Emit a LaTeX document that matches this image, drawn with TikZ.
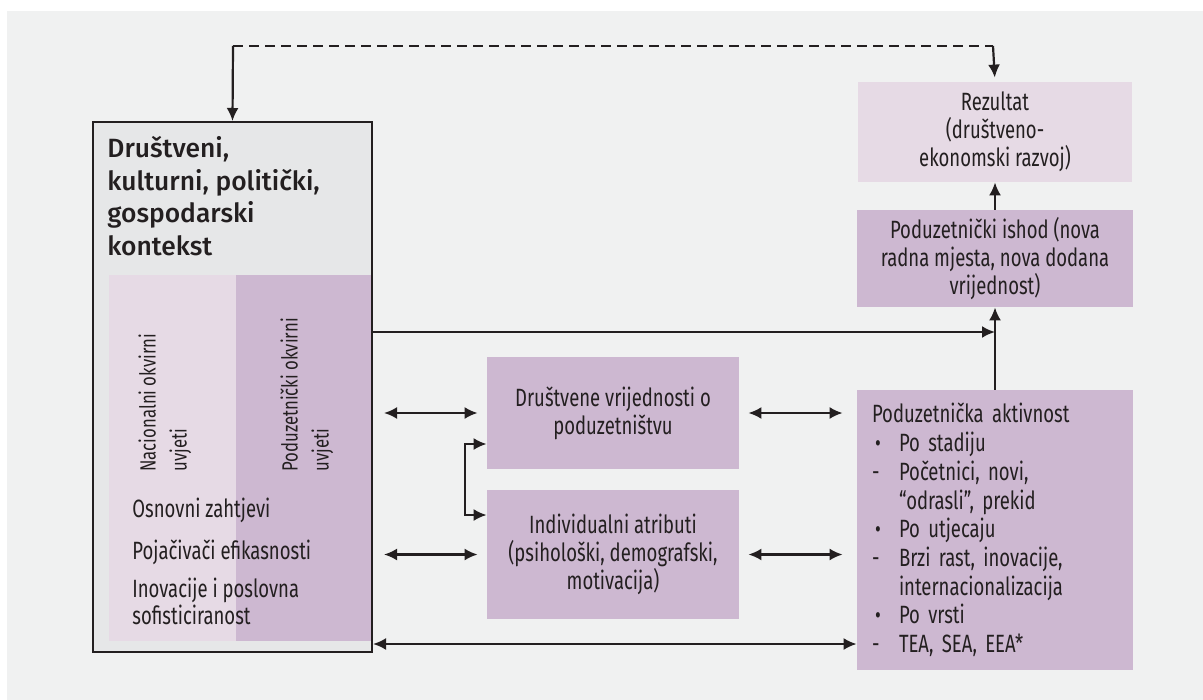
\documentclass[tikz,border=0pt]{standalone}
\usepackage{fontspec}
\setmainfont{Fira Sans}
\newfontfamily\condfont[FakeStretch=0.74]{Fira Sans}
\newfontfamily\rotfont[FakeStretch=0.76]{Fira Sans}
\newfontfamily\titlefont{Fira Sans Medium}
\usetikzlibrary{arrows.meta}
\definecolor{panel}{HTML}{F0F1F1}
\definecolor{ctxgray}{HTML}{E6E7E8}
\definecolor{lilalight}{HTML}{E6DAE5}
\definecolor{lila}{HTML}{CDB8D1}
\definecolor{txt}{HTML}{231F20}
\begin{document}
\begin{tikzpicture}[x=0.5pt, y=-0.5pt, >={Latex[length=6.5pt,width=6pt]},
  box/.style={rectangle, inner sep=0pt, text=txt, align=center,
    font=\condfont\fontsize{12.5}{14}\selectfont},
  lbl/.style={inner sep=0pt, text=txt, align=left,
    font=\condfont\fontsize{12.5}{13.5}\selectfont},
  conn/.style={draw=txt, line width=1.1pt}]
  % Background
  \fill[white] (0,0) rectangle (1203,700);
  \fill[panel] (7,11) rectangle (1203,700);
  % Nodes
  \node (ctx) [rectangle, draw=txt, fill=ctxgray, line width=1pt, minimum width=139.5pt, minimum height=265pt] at (232.5,387) {};
  \node (nat) [rectangle, fill=lilalight, inner sep=0pt, minimum width=63.5pt, minimum height=183pt] at (172.5,458) {};
  \node (pod) [rectangle, fill=lila, inner sep=0pt, minimum width=67.5pt, minimum height=183pt] at (303.5,458) {};
  \node (ttl) [anchor=north west, inner sep=0pt, align=left, text=txt, font=\titlefont\fontsize{13.2}{16.25}\selectfont] at (107,136) {Društveni,\\kulturni, politički,\\gospodarski\\kontekst};
  \node (natlbl) [rotate=90, anchor=north west, inner sep=0pt, align=left, text=txt, font=\rotfont\fontsize{11}{15.5}\selectfont] at (138,472) {Nacionalni okvirni\\uvjeti};
  \node (podlbl) [rotate=90, anchor=north west, inner sep=0pt, align=left, text=txt, font=\rotfont\fontsize{11}{15.5}\selectfont] at (280,472) {Poduzetnički okvirni\\uvjeti};
  \node (osn) [lbl, anchor=west] at (132,510) {Osnovni zahtjevi};
  \node (poj) [lbl, anchor=west] at (132,552) {Pojačivači efikasnosti};
  \node (ino) [lbl, anchor=west] at (132,601.5) {Inovacije i poslovna\\sofisticiranost};

  \node (vri) [box, fill=lila, minimum width=126pt, minimum height=56pt] at (613,413) {Društvene vrijednosti o\\poduzetništvu};
  \node (ind) [box, fill=lila, minimum width=126pt, minimum height=64.5pt] at (613,554.5) {Individualni atributi\\(psihološki, demografski,\\motivacija)};
  \node (rez) [box, fill=lilalight, minimum width=137pt, minimum height=50pt] at (995,132) {Rezultat\\(društveno-\\ekonomski razvoj)};
  \node (ish) [box, fill=lila, minimum width=138pt, minimum height=48.5pt] at (995,258.5) {Poduzetnički ishod (nova\\radna mjesta, nova dodana\\vrijednost)};
  \node (akt) [box, fill=lila, align=left, inner xsep=7.5pt, text width=123pt, minimum height=140pt, font=\condfont\fontsize{12.5}{14.35}\selectfont] at (995,530) {Poduzetnička aktivnost\\
    \makebox[13.5pt][l]{\hspace{1.5pt}\large•}Po stadiju\\
    \makebox[13.5pt][l]{-}Početnici, novi,\\
    \hspace*{13.5pt}“odrasli”, prekid\\
    \makebox[13.5pt][l]{\hspace{1.5pt}\large•}Po utjecaju\\
    \makebox[13.5pt][l]{-}Brzi rast, inovacije,\\
    \hspace*{13.5pt}internacionalizacija\\
    \makebox[13.5pt][l]{\hspace{1.5pt}\large•}Po vrsti\\
    \makebox[13.5pt][l]{-}TEA, SEA, EEA*};
  \coordinate (fbl) at (233,46);
  \coordinate (fbr) at (993,46);
  % Arrows
  \draw[conn, dashed, dash pattern=on 5pt off 3pt] (fbl) -- (fbr);
  \draw[conn, ->] (fbl) -- (ctx.north);
  \draw[conn, ->, shorten >=2pt] (fbr) -- (rez.north);
  \draw[conn, ->] (ish.north) -- (rez.south);
  \draw[conn, ->] (akt.north) -- (ish.south);
  \draw[conn, ->] ([yshift=27.5pt]ctx.east) -- ([yshift=27.5pt]ctx.east -| akt.north);
  \draw[conn, <->, shorten <=5.5pt, shorten >=4.5pt] (ctx.east |- vri.west) -- (vri.west);
  \draw[conn, <->, shorten <=5.5pt, shorten >=4.5pt] (ctx.east |- ind.west) -- (ind.west);
  \draw[conn, <->, shorten <=4.5pt, shorten >=7pt] (vri.east) -- (akt.west |- vri.east);
  \draw[conn, <->, shorten <=4.5pt, shorten >=7pt] (ind.east) -- (akt.west |- ind.east);
  \draw[conn, <->] ([yshift=-15.5pt]vri.west) -- ++(-11pt,0) |- ([yshift=19.75pt]ind.west);
  \draw[conn, <->] ([yshift=4.5pt]ctx.south east) -- ([yshift=4.5pt]ctx.south east -| akt.west);
\end{tikzpicture}
\end{document}
